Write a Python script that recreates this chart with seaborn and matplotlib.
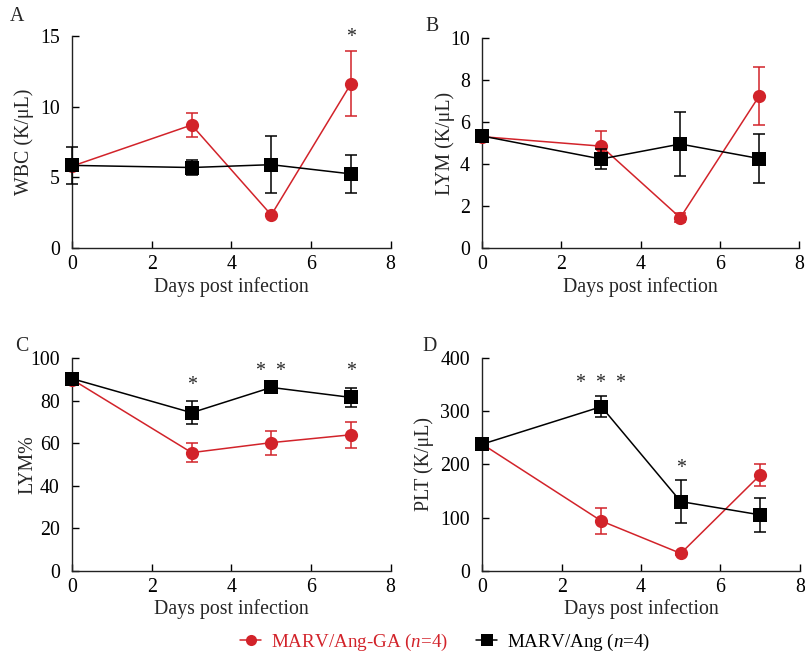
import pandas as pd
import numpy as np
import matplotlib
matplotlib.use('Agg')
import matplotlib.pyplot as plt
import seaborn as sns
from matplotlib.lines import Line2D

sns.set_style('ticks')
plt.rcParams['font.family'] = ['Liberation Serif', 'DejaVu Serif']
plt.rcParams['mathtext.fontset'] = 'custom'
plt.rcParams['mathtext.rm'] = 'Liberation Serif'
plt.rcParams['mathtext.it'] = 'Liberation Serif:italic'

# data
days = [0, 3, 5, 7]
groups = ['MARV/Ang-GA ($\\mathit{n}$=4)', 'MARV/Ang ($\\mathit{n}$=4)']

wbc_ga = [5.8, 8.7, 2.35, 11.6]
wbc_ga_err = [0.3, 0.85, 0.1, 2.3]
wbc_ang = [5.85, 5.7, 5.9, 5.25]
wbc_ang_err = [1.3, 0.5, 2.0, 1.35]

lym_ga = [5.3, 4.85, 1.45, 7.25]
lym_ga_err = [0.2, 0.7, 0.22, 1.38]
lym_ang = [5.33, 4.24, 4.95, 4.26]
lym_ang_err = [0.2, 0.47, 1.5, 1.15]

lymp_ga = [90.0, 55.6, 60.3, 64.0]
lymp_ga_err = [1.0, 4.6, 5.7, 6.0]
lymp_ang = [90.4, 74.4, 86.3, 81.6]
lymp_ang_err = [1.0, 5.5, 1.0, 4.6]

plt_ga = [238, 93.5, 32.5, 180]
plt_ga_err = [3, 24, 3, 20]
plt_ang = [238, 308.5, 130, 105]
plt_ang_err = [3, 19.5, 40, 31.5]

panels = [
    ('A', 'WBC (K/μL)', wbc_ga, wbc_ga_err, wbc_ang, wbc_ang_err, [0, 15], [0, 5, 10, 15],
     [(7, 14.9, '*')]),
    ('B', 'LYM (K/μL)', lym_ga, lym_ga_err, lym_ang, lym_ang_err, [0, 10], [0, 2, 4, 6, 8, 10], []),
    ('C', 'LYM%', lymp_ga, lymp_ga_err, lymp_ang, lymp_ang_err, [0, 100], [0, 20, 40, 60, 80, 100],
     [(3, 87, '*'), (5, 94, '*  *'), (7, 94, '*')]),
    ('D', 'PLT (K/μL)', plt_ga, plt_ga_err, plt_ang, plt_ang_err, [0, 400], [0, 100, 200, 300, 400],
     [(3, 352, '*  *  *'), (5, 192, '*')]),
]

# axes rectangles [left, bottom, width, height]
rects = [
    [0.0898, 0.6192, 0.3955, 0.3260],
    [0.5991, 0.6192, 0.3935, 0.3230],
    [0.0898, 0.1247, 0.3955, 0.3257],
    [0.5991, 0.1247, 0.3945, 0.3262],
]
label_pos = [(0.021, 0.975), (0.537, 0.96), (0.027, 0.468), (0.534, 0.468)]
ylabel_x = [-0.119, -0.087, -0.111, -0.152]

red = '#d2232a'
colors = [red, 'black']
markers = ['o', 's']
fs = 14.3

fig = plt.figure(figsize=(8.05, 6.52), dpi=100)

for (letter, ylabel, ga, ga_err, ang, ang_err, ylim, yticks, stars), rect, lp, lx in zip(panels, rects, label_pos, ylabel_x):
    ax = fig.add_axes(rect)
    df = pd.DataFrame({
        'day': days * 2,
        'value': ga + ang,
        'group': [groups[0]] * 4 + [groups[1]] * 4,
    })
    sns.lineplot(data=df, x='day', y='value', hue='group', style='group',
                 palette=colors, markers=markers, dashes=False,
                 markersize=9.5, markeredgewidth=0, linewidth=1.1,
                 legend=False, ax=ax, clip_on=False, zorder=3)
    ax.errorbar(days, ga, yerr=ga_err, fmt='none', ecolor=red, elinewidth=1.1,
                capsize=4, capthick=1.1, clip_on=False, zorder=2)
    ax.errorbar(days, ang, yerr=ang_err, fmt='none', ecolor='black', elinewidth=1.1,
                capsize=4, capthick=1.1, clip_on=False, zorder=4)
    # keep black markers on top
    for ln in ax.get_lines():
        if matplotlib.colors.to_hex(ln.get_color()) == '#000000':
            ln.set_zorder(5)
    ax.set_xlim(0, 8)
    ax.set_ylim(*ylim)
    ax.set_xticks([0, 2, 4, 6, 8])
    ax.set_yticks(yticks)
    ax.set_xlabel('Days post infection', fontsize=fs, labelpad=2)
    ax.set_ylabel(ylabel, fontsize=fs)
    ax.yaxis.set_label_coords(lx, 0.5)
    ax.tick_params(direction='in', length=5, width=1, labelsize=fs, colors='black')
    ax.tick_params(axis='y', pad=9)
    ax.tick_params(axis='x', pad=5)
    for s in ['top', 'right']:
        ax.spines[s].set_visible(False)
    for s in ['left', 'bottom']:
        ax.spines[s].set_linewidth(1)
        ax.spines[s].set_color('#222222')
    for x, y, t in stars:
        ax.text(x, y, t, ha='center', va='center', fontsize=fs, clip_on=False)
    fig.text(lp[0], lp[1], letter, fontsize=fs, ha='center', va='center')

handles = [Line2D([], [], color=red, marker='o', markersize=8, markeredgewidth=0, linewidth=1.1),
           Line2D([], [], color='black', marker='s', markersize=8, markeredgewidth=0, linewidth=1.1)]
fig.legend(handles, groups, loc='center', bbox_to_anchor=(0.553, 0.015), ncol=2,
           frameon=False, fontsize=13.7, labelcolor=[red, 'black'], handlelength=1.1,
           columnspacing=1.5, handletextpad=0.5)

plt.savefig('out.png', dpi=100)
